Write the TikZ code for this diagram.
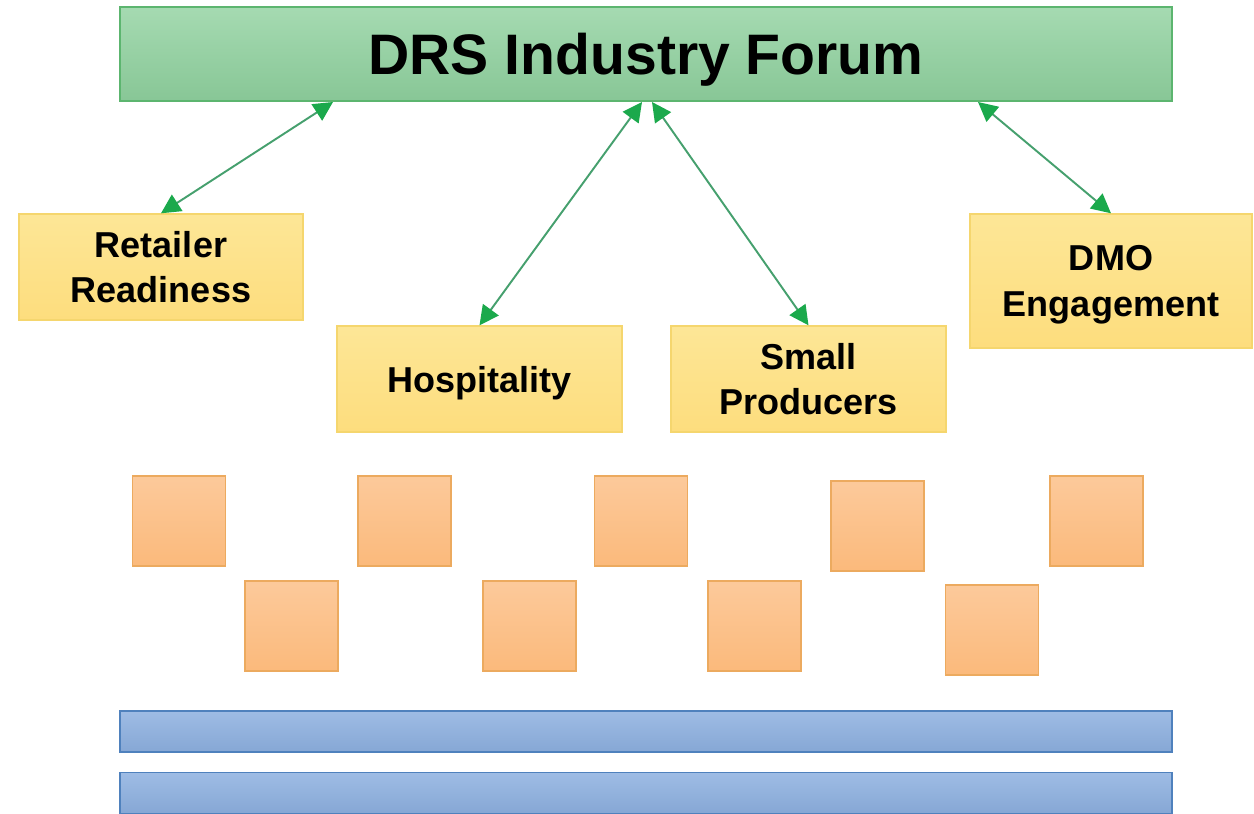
\documentclass[tikz,border=0pt]{standalone}
\usepackage{fontspec}
\setmainfont{Liberation Sans}
\usepackage{tikz}
\usetikzlibrary{arrows.meta,positioning,calc}
\definecolor{forumgreen}{RGB}{143,209,158}
\definecolor{forumedge}{RGB}{92,181,111}
\definecolor{topicyellow}{RGB}{253,226,132}
\definecolor{topicedge}{RGB}{245,214,110}
\definecolor{tileorange}{RGB}{251,192,137}
\definecolor{tileedge}{RGB}{236,170,95}
\definecolor{barblue}{RGB}{141,176,224}
\definecolor{baredge}{RGB}{79,129,189}
\definecolor{linkgreen}{RGB}{27,169,76}
\definecolor{linkline}{RGB}{70,160,110}

\begin{document}
\begin{tikzpicture}[x=0.02cm, y=-0.02cm,
    forumbox/.style={draw=forumedge, line width=0.8pt, top color=forumgreen!80!white, bottom color=forumgreen!95!black,
        minimum width=21.04cm, minimum height=1.88cm, inner sep=0pt,
        text height=23.4pt, text depth=0pt,
        font=\bfseries\fontsize{32.5}{38}\selectfont},
    topicbox/.style={draw=topicedge, line width=0.8pt, top color=topicyellow!85!white, bottom color=topicyellow!95!orange,
        minimum height=2.12cm, inner sep=0pt, align=center, text depth=0pt,
        font=\bfseries\fontsize{20.5}{26}\selectfont},
    tilebox/.style={draw=tileedge, line width=0.7pt, top color=tileorange!85!white, bottom color=tileorange!90!orange,
        minimum width=1.86cm, minimum height=1.8cm, inner sep=0pt},
    barbox/.style={draw=baredge, line width=0.8pt, top color=barblue!85!white, bottom color=barblue!95!black,
        minimum width=21.04cm, minimum height=0.82cm, inner sep=0pt},
    link/.style={draw=linkline, line width=1.1pt,
        {Triangle[length=11pt,width=11pt,color=linkgreen]}-{Triangle[length=11pt,width=11pt,color=linkgreen]}}
]
    \useasboundingbox (0,0) rectangle (1254,814);

    % Forum
    \node[forumbox] (forum) at (646,54) {DRS Industry Forum};

    % Working groups
    \node[topicbox, minimum width=5.68cm] (retail) at (161,267) {Retailer\\Readiness};
    \node[topicbox, minimum width=5.7cm] (hosp) at (479.5,379) {Hospitality};
    \node[topicbox, minimum width=5.5cm] (small) at (808.5,379) {Small\\Producers};
    \node[topicbox, minimum width=5.64cm, minimum height=2.68cm] (dmo) at (1111,281) {DMO\\Engagement};

    % Points on the forum's lower edge
    \coordinate (fa) at (333,102);
    \coordinate (fb) at (642,102);
    \coordinate (fc) at (652,102);
    \coordinate (fd) at (978,102);

    % Links
    \draw[link] (fa) -- (retail.north);
    \draw[link] (fb) -- (hosp.north);
    \draw[link] (fc) -- (small.north);
    \draw[link] (fd) -- (dmo.north);

    % Tiles
    \foreach \n/\x/\y in {1/179/521, 2/404.5/521, 3/641/521, 4/877.5/526, 5/1096.5/521,
                          6/291.5/626, 7/529.5/626, 8/754.5/626, 9/992/630} {
        \node[tilebox] (tile\n) at (\x,\y) {};
    }

    % Bars
    \node[barbox] (bara) at (646,731.5) {};
    \node[barbox] (barb) at (646,793) {};

\end{tikzpicture}
\end{document}
